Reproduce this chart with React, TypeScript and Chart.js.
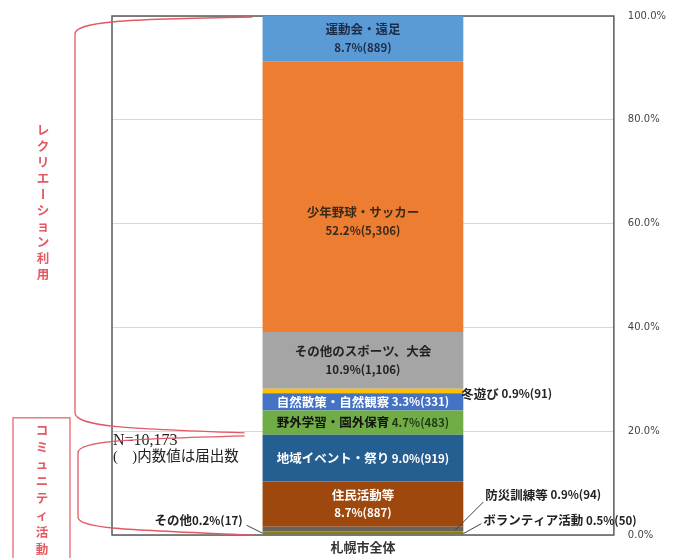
import React, { useEffect, useRef } from "react";
import { Chart, registerables } from "chart.js";
Chart.register(...registerables);

const categories = ["札幌市全体"];
// bottom → top
const seriesNames = [
  "その他",
  "ボランティア活動",
  "防災訓練等",
  "住民活動等",
  "地域イベント・祭り",
  "野外学習・園外保育",
  "自然散策・自然観察",
  "冬遊び",
  "その他のスポーツ、大会",
  "少年野球・サッカー",
  "運動会・遠足",
];
const seriesPercent = [0.2, 0.5, 0.9, 8.7, 9.0, 4.7, 3.3, 0.9, 10.9, 52.2, 8.7];
const seriesCounts = [17, 50, 94, 887, 919, 483, 331, 91, 1106, 5306, 889];
const totalCount = 10173;
const yTickValues = [0, 20, 40, 60, 80, 100];
const communityGroup = [0, 1, 2, 3, 4];
const recreationGroup = [5, 6, 7, 8, 9, 10];
const groupTitles = ["レクリエーション利用", "コミュニティ活動"];
const noteLines = ["N=10,173", "(　)内数値は届出数"];

const seriesColors = [
  "#5b7a35",
  "#8f7a1e",
  "#6b6458",
  "#9e480e",
  "#255e91",
  "#70ad47",
  "#4472c4",
  "#ffc000",
  "#a5a5a5",
  "#ed7d31",
  "#5b9bd5",
];

type LabelStyle = {
  mode: "two" | "one" | "right" | "left";
  nameColor: string;
  pctColor: string;
  dy?: number;
};
const labelStyles: LabelStyle[] = [
  { mode: "left", nameColor: "#222", pctColor: "#222" },
  { mode: "right", nameColor: "#222", pctColor: "#222" },
  { mode: "right", nameColor: "#222", pctColor: "#222" },
  { mode: "two", nameColor: "#ffffff", pctColor: "#ffffff" },
  { mode: "one", nameColor: "#ffffff", pctColor: "#ffffff" },
  { mode: "one", nameColor: "#111", pctColor: "#1f3a12" },
  { mode: "one", nameColor: "#ffffff", pctColor: "#ffffff" },
  { mode: "right", nameColor: "#222", pctColor: "#222" },
  { mode: "two", nameColor: "#222", pctColor: "#222" },
  { mode: "two", nameColor: "#3a2a1a", pctColor: "#3a2a1a", dy: 25 },
  { mode: "two", nameColor: "#1c2b4a", pctColor: "#1c2b4a" },
];

const JP = "'Noto Sans CJK JP', 'Noto Sans', sans-serif";
const NAME_FONT = `bold 12.5px ${JP}`;
const PCT_FONT = `bold 11.5px ${JP}`;
const RED = "#e35a63";

const fmtPct = (i: number) =>
  `${seriesPercent[i].toFixed(1)}%(${seriesCounts[i].toLocaleString("en-US")})`;

const sum = (idx: number[]) => idx.reduce((a, i) => a + seriesPercent[i], 0);

function drawVertical(ctx: CanvasRenderingContext2D, text: string, x: number, y0: number, step: number) {
  const chars = Array.from(text);
  chars.forEach((c, k) => {
    const y = y0 + k * step;
    if (c === "ー") {
      ctx.save();
      ctx.translate(x, y);
      ctx.rotate(Math.PI / 2);
      ctx.fillText(c, 0, 0);
      ctx.restore();
    } else {
      ctx.fillText(c, x, y);
    }
  });
}

const decorPlugin = {
  id: "decor",
  beforeDatasetsDraw(chart: any) {
    const { ctx, chartArea } = chart;
    ctx.save();
    ctx.strokeStyle = "#5a5a5a";
    ctx.lineWidth = 1.5;
    ctx.strokeRect(chartArea.left, chartArea.top, chartArea.right - chartArea.left, chartArea.bottom - chartArea.top);
    ctx.restore();
  },
  afterDatasetsDraw(chart: any) {
    const { ctx, chartArea } = chart;
    const ys = chart.scales.y;
    ctx.save();
    ctx.textBaseline = "middle";
    // labels
    seriesNames.forEach((name, i) => {
      const el = chart.getDatasetMeta(i).data[0];
      if (!el) return;
      const left = el.x - el.width / 2;
      const right = el.x + el.width / 2;
      const cy = (el.y + el.base) / 2 + (labelStyles[i].dy || 0);
      const st = labelStyles[i];
      const pct = fmtPct(i);
      if (st.mode === "two") {
        ctx.textAlign = "center";
        ctx.font = NAME_FONT;
        ctx.fillStyle = st.nameColor;
        ctx.fillText(name, el.x, cy - 9);
        ctx.font = PCT_FONT;
        ctx.fillStyle = st.pctColor;
        ctx.fillText(pct, el.x, cy + 9);
      } else if (st.mode === "one") {
        ctx.font = NAME_FONT;
        const w1 = ctx.measureText(name).width;
        ctx.font = PCT_FONT;
        const w2 = ctx.measureText(" " + pct).width;
        const sx = el.x - (w1 + w2) / 2;
        ctx.textAlign = "left";
        ctx.font = NAME_FONT;
        ctx.fillStyle = st.nameColor;
        ctx.fillText(name, sx, cy);
        ctx.font = PCT_FONT;
        ctx.fillStyle = st.pctColor;
        ctx.fillText(" " + pct, sx + w1, cy);
      } else if (st.mode === "right") {
        ctx.textAlign = "left";
        let tx: number, ty: number;
        if (i === 7) {
          tx = right - 2;
          ty = cy + 3;
        } else {
          tx = right + (i === 2 ? 22 : 20);
          ty = i === 2 ? cy - 34 : cy - 12;
          ctx.strokeStyle = "#444";
          ctx.lineWidth = 1;
          ctx.beginPath();
          ctx.moveTo(tx - 2, ty + (i === 2 ? 7 : 3));
          ctx.lineTo(right - (i === 2 ? 8 : 0), cy + 1);
          ctx.stroke();
        }
        ctx.font = NAME_FONT;
        ctx.fillStyle = st.nameColor;
        ctx.fillText(name, tx, ty);
        const w1 = ctx.measureText(name).width;
        ctx.font = PCT_FONT;
        ctx.fillStyle = st.pctColor;
        ctx.fillText(" " + pct, tx + w1, ty);
      } else {
        // left
        const ty = cy - 14;
        const ex = left - 20;
        ctx.strokeStyle = "#444";
        ctx.lineWidth = 1;
        ctx.beginPath();
        ctx.moveTo(ex + 4, ty + 5);
        ctx.lineTo(left, cy - 1);
        ctx.stroke();
        ctx.textAlign = "right";
        ctx.font = PCT_FONT;
        ctx.fillStyle = st.pctColor;
        ctx.fillText(pct, ex, ty);
        const w2 = ctx.measureText(pct).width;
        ctx.font = NAME_FONT;
        ctx.fillStyle = st.nameColor;
        ctx.fillText(name, ex - w2, ty);
      }
    });

    // note
    ctx.textAlign = "left";
    ctx.fillStyle = "#222";
    ctx.font = "16px 'Liberation Serif', serif";
    const yComm = ys.getPixelForValue(sum(communityGroup));
    ctx.fillText(noteLines[0], chartArea.left + 1, yComm + 6);
    ctx.font = `14.5px 'Liberation Serif', ${JP}`;
    ctx.fillText(noteLines[1], chartArea.left + 1, yComm + 22);

    // brackets
    const el0 = chart.getDatasetMeta(0).data[0];
    const barLeft = el0.x - el0.width / 2;
    const yTop = ys.getPixelForValue(100);
    const yBot = ys.getPixelForValue(0);
    const xv = 75;
    ctx.strokeStyle = RED;
    ctx.lineWidth = 1.3;
    ctx.beginPath();
    ctx.moveTo(barLeft - 10, yTop + 1);
    ctx.bezierCurveTo(120, yTop + 3, xv, yTop + 6, xv, yTop + 18);
    ctx.lineTo(xv, yComm - 22);
    ctx.bezierCurveTo(xv, yComm - 8, 130, yComm - 6, barLeft - 18, yComm - 2);
    ctx.stroke();
    const xv2 = 78;
    ctx.beginPath();
    ctx.moveTo(barLeft - 18, yComm + 1);
    ctx.bezierCurveTo(130, yComm + 4, xv2, yComm + 6, xv2, yComm + 18);
    ctx.lineTo(xv2, yBot - 18);
    ctx.bezierCurveTo(xv2, yBot - 6, 130, yBot - 5, barLeft - 10, yBot);
    ctx.stroke();

    // community box
    ctx.lineWidth = 1.2;
    ctx.strokeRect(13, yComm - 17, 57, 200);

    // vertical titles
    ctx.fillStyle = RED;
    ctx.textAlign = "center";
    ctx.font = `bold 12.5px ${JP}`;
    drawVertical(ctx, groupTitles[0], 43, yTop + 114, 16);
    drawVertical(ctx, groupTitles[1], 42, yComm - 5, 17);
    ctx.restore();
  },
};

export default function App() {
  const ref = useRef<HTMLCanvasElement | null>(null);
  useEffect(() => {
    if (!ref.current) return;
    const chart = new Chart(ref.current, {
      type: "bar",
      data: {
        labels: categories,
        datasets: seriesNames.map((n, i) => ({
          label: n,
          data: [seriesPercent[i]],
          backgroundColor: seriesColors[i],
          borderWidth: 0,
          categoryPercentage: 0.4,
          barPercentage: 1,
        })),
      },
      options: {
        animation: false,
        responsive: true,
        maintainAspectRatio: false,
        layout: { padding: { left: 112, top: 16, right: 2, bottom: 4 } },
        plugins: { legend: { display: false }, tooltip: { enabled: false } },
        scales: {
          x: {
            stacked: true,
            grid: { display: false, drawTicks: false },
            border: { display: false },
            afterFit: (scale: any) => {
              scale.height = 19;
            },
            ticks: { padding: 6, color: "#333", font: { size: 13, weight: "bold", family: JP, lineHeight: 1 } },
          },
          y: {
            stacked: true,
            position: "right",
            min: 0,
            max: 100,
            afterBuildTicks: (axis: any) => {
              axis.ticks = yTickValues.map((v) => ({ value: v }));
            },
            afterFit: (scale: any) => {
              scale.paddingTop = 4;
              scale.paddingBottom = 4;
            },
            ticks: {
              padding: 14,
              color: "#444",
              font: { size: 10, family: "'DejaVu Sans', sans-serif" },
              callback: (v: any) => Number(v).toFixed(1) + "%",
            },
            grid: { color: "#d9d9d9", drawTicks: false },
            border: { display: false },
          },
        },
      },
      plugins: [decorPlugin],
    });
    return () => chart.destroy();
  }, []);
  return (
    <div style={{ position: "fixed", left: 0, top: 0, width: 682, height: 558, background: "#fff" }}>
      <canvas ref={ref} />
    </div>
  );
}
